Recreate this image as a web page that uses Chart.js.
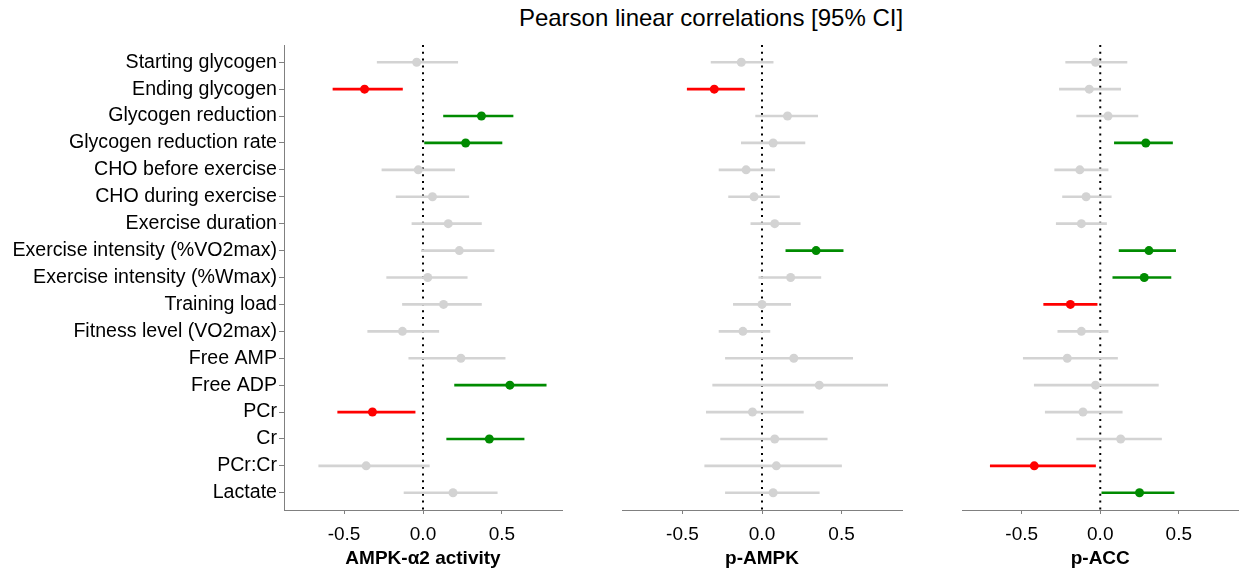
<!DOCTYPE html>
<html>
<head>
<meta charset="utf-8">
<title>Pearson linear correlations</title>
<script src="https://cdn.jsdelivr.net/npm/chart.js@4.4.0/dist/chart.umd.min.js"></script>
<style>
  html, body { margin: 0; padding: 0; background: #fff; }
  body { width: 1239px; height: 571px; position: relative; overflow: hidden;
         font-family: "Liberation Sans", Arial, Helvetica, sans-serif; }
  #title { position: absolute; top: 6px; left: 711px; transform: translateX(-50%);
           font-size: 24px; line-height: 24px; white-space: nowrap; color: #000; }
  canvas { position: absolute; top: 0; }
</style>
</head>
<body>
<div id="title">Pearson linear correlations [95% CI]</div>
<canvas id="c1" width="570" height="571" style="left:0"></canvas>
<canvas id="c2" width="310" height="571" style="left:600px"></canvas>
<canvas id="c3" width="303" height="571" style="left:940px"></canvas>
<script>
// variables (rows, top to bottom)
const variables = [
  "Starting glycogen", "Ending glycogen", "Glycogen reduction", "Glycogen reduction rate",
  "CHO before exercise", "CHO during exercise", "Exercise duration",
  "Exercise intensity (%VO2max)", "Exercise intensity (%Wmax)", "Training load",
  "Fitness level (VO2max)", "Free AMP", "Free ADP", "PCr", "Cr", "PCr:Cr", "Lactate"
];
const xTicks = [-0.5, 0, 0.5];
const xMin = -0.88, xMax = 0.88;
const zeroLine = 0;

// AMPK-a2 activity
const ampkR  = [-0.04, -0.37, 0.37, 0.27, -0.03, 0.06, 0.16, 0.23, 0.03, 0.13, -0.13, 0.24, 0.55, -0.32, 0.42, -0.36, 0.19];
const ampkLo = [-0.29, -0.57, 0.13, 0.01, -0.26, -0.17, -0.07, -0.01, -0.23, -0.13, -0.35, -0.09, 0.20, -0.54, 0.15, -0.66, -0.12];
const ampkHi = [0.22, -0.13, 0.57, 0.50, 0.20, 0.29, 0.37, 0.45, 0.28, 0.37, 0.10, 0.52, 0.78, -0.05, 0.64, 0.04, 0.47];

// p-AMPK
const pampkR  = [-0.13, -0.30, 0.16, 0.07, -0.10, -0.05, 0.08, 0.34, 0.18, 0.00, -0.12, 0.20, 0.36, -0.06, 0.08, 0.09, 0.07];
const pampkLo = [-0.32, -0.47, -0.04, -0.13, -0.27, -0.21, -0.07, 0.15, -0.02, -0.18, -0.27, -0.23, -0.31, -0.35, -0.26, -0.36, -0.23];
const pampkHi = [0.07, -0.11, 0.35, 0.27, 0.08, 0.11, 0.24, 0.51, 0.37, 0.18, 0.05, 0.57, 0.79, 0.26, 0.41, 0.50, 0.36];

// p-ACC
const paccR  = [-0.03, -0.07, 0.05, 0.29, -0.13, -0.09, -0.12, 0.31, 0.28, -0.19, -0.12, -0.21, -0.03, -0.11, 0.13, -0.42, 0.25];
const paccLo = [-0.22, -0.26, -0.15, 0.09, -0.29, -0.24, -0.28, 0.12, 0.08, -0.36, -0.27, -0.49, -0.42, -0.35, -0.15, -0.70, 0.01];
const paccHi = [0.17, 0.13, 0.24, 0.46, 0.05, 0.07, 0.04, 0.48, 0.45, -0.02, 0.05, 0.11, 0.37, 0.14, 0.39, -0.03, 0.47];

const FONT = '"Liberation Sans", Arial, Helvetica, sans-serif';
const AXIS = "#808080";
const GREY = "#d3d3d3", RED = "#ff0000", GREEN = "#008b00";

// green if CI above zero, red if below, grey otherwise
function ciColor(lo, hi) {
  if (lo > 0) return GREEN;
  if (hi < 0) return RED;
  return GREY;
}

function drawPanel(id, r, lo, hi, xTitle, withLabels, padLeft, padRight) {
  const rows = variables.map((_, i) => i + 1);
  const colors = rows.map((_, i) => ciColor(lo[i], hi[i]));
  const yMin = 0.36, yMax = variables.length + 0.64;

  new Chart(document.getElementById(id), {
    type: "scatter",
    data: {
      datasets: [
        {
          type: "scatter",
          data: rows.map((y, i) => ({ x: r[i], y: y })),
          pointRadius: 4.5, pointHoverRadius: 4.5,
          pointBackgroundColor: colors, pointBorderWidth: 0,
          order: 0
        },
        {
          type: "bar",
          indexAxis: "y",
          data: rows.map((y, i) => ({ x: [lo[i], hi[i]], y: y })),
          backgroundColor: colors,
          barThickness: 2, borderWidth: 0,
          order: 1
        },
        {
          type: "line",
          data: [{ x: zeroLine, y: yMin }, { x: zeroLine, y: yMax }],
          borderColor: "#000", borderWidth: 2, borderDash: [2, 4.8],
          pointRadius: 0, fill: false,
          order: 2
        }
      ]
    },
    options: {
      responsive: false,
      animation: false,
      layout: { padding: { top: 45, left: padLeft, right: padRight, bottom: 0 } },
      plugins: { legend: { display: false }, tooltip: { enabled: false } },
      scales: {
        x: {
          type: "linear", min: xMin, max: xMax, offset: false,
          afterBuildTicks: s => { s.ticks = xTicks.map(v => ({ value: v })); },
          afterFit: s => { s.height = 61; },
          ticks: { callback: v => v.toFixed(1), color: "#000", font: { family: FONT, size: 19 }, padding: 9, maxRotation: 0 },
          grid: { offset: false, drawOnChartArea: false, drawTicks: true, tickLength: 4, color: AXIS },
          border: { display: true, color: AXIS, width: 1 },
          title: { display: true, text: xTitle, color: "#000",
                   font: { family: FONT, size: 19, weight: "bold" }, padding: { top: 0, bottom: 1 } }
        },
        y: {
          type: "linear", reverse: true, min: yMin, max: yMax, offset: false,
          display: withLabels,
          afterBuildTicks: s => { s.ticks = rows.map(v => ({ value: v })); },
          afterFit: s => { s.width = withLabels ? 284 : 0; },
          ticks: { callback: v => variables[v - 1], color: "#000", font: { family: FONT, size: 19.6 }, padding: 2 },
          grid: { offset: false, drawOnChartArea: false, drawTicks: true, tickLength: 5, color: AXIS },
          border: { display: true, color: AXIS, width: 1 }
        }
      }
    }
  });
}

drawPanel("c1", ampkR, ampkLo, ampkHi, "AMPK-\u03b12 activity", true, 0, 8);
drawPanel("c2", pampkR, pampkLo, pampkHi, "p-AMPK", false, 22, 8);
drawPanel("c3", paccR, paccLo, paccHi, "p-ACC", false, 22, 0);
</script>
</body>
</html>
